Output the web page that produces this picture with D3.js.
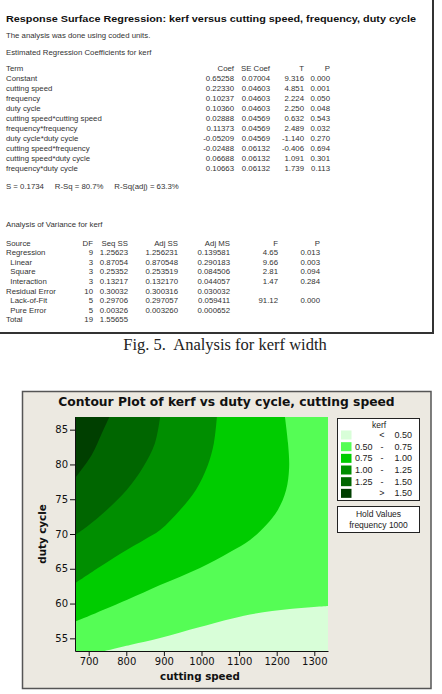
<!DOCTYPE html>
<html lang="en">
<head>
	<meta charset="UTF-8">
	<title>Analysis for kerf width</title>
	<script src="https://cdn.jsdelivr.net/npm/d3@7"></script>
	<style>
		body { margin: 0; background: #fff; }
		svg text { font-family: "Liberation Sans", Arial, sans-serif; }
		.mono { font-size: 7.8px; fill: #333; white-space: pre; }
		.bold { font-family: "DejaVu Sans", Verdana, sans-serif !important; font-weight: bold; fill: #111; }
	</style>
</head>
<body>
	<div id="vis"></div>

	<script>
		var width = 442;
		var height = 694;

		// ---- session window: regression coefficients ----
		var coefTerms = ["Constant", "cutting speed", "frequency", "duty cycle",
			"cutting speed*cutting speed", "frequency*frequency", "duty cycle*duty cycle",
			"cutting speed*frequency", "cutting speed*duty cycle", "frequency*duty cycle"];
		var coefValues = ["0.65258", "0.22330", "0.10237", "0.10360", "0.02888", "0.11373", "-0.05209", "-0.02488", "0.06688", "0.10663"];
		var coefSE = ["0.07004", "0.04603", "0.04603", "0.04603", "0.04569", "0.04569", "0.04569", "0.06132", "0.06132", "0.06132"];
		var coefT = ["9.316", "4.851", "2.224", "2.250", "0.632", "2.489", "-1.140", "-0.406", "1.091", "1.739"];
		var coefP = ["0.000", "0.001", "0.050", "0.048", "0.543", "0.032", "0.270", "0.694", "0.301", "0.113"];

		// ---- session window: analysis of variance ----
		var anovaSource = ["Regression", "  Linear", "  Square", "  Interaction", "Residual Error", "  Lack-of-Fit", "  Pure Error", "Total"];
		var anovaDF = ["9", "3", "3", "3", "10", "5", "5", "19"];
		var anovaSeqSS = ["1.25623", "0.87054", "0.25352", "0.13217", "0.30032", "0.29706", "0.00326", "1.55655"];
		var anovaAdjSS = ["1.256231", "0.870548", "0.253519", "0.132170", "0.300316", "0.297057", "0.003260", ""];
		var anovaAdjMS = ["0.139581", "0.290183", "0.084506", "0.044057", "0.030032", "0.059411", "0.000652", ""];
		var anovaF = ["4.65", "9.66", "2.81", "1.47", "", "91.12", "", ""];
		var anovaP = ["0.013", "0.003", "0.094", "0.284", "", "0.000", "", ""];

		// ---- contour plot ----
		var speedDomain = [663.6, 1336.4];
		var dutyDomain = [53.18, 86.82];
		var speedTicks = [700, 800, 900, 1000, 1100, 1200, 1300];
		var dutyTicks = [55, 60, 65, 70, 75, 80, 85];
		var kerfLevels = [0.50, 0.75, 1.00, 1.25, 1.50];
		var legendLabels = [["", "<", "0.50"], ["0.50", "-", "0.75"], ["0.75", "-", "1.00"],
			["1.00", "-", "1.25"], ["1.25", "-", "1.50"], ["", ">", "1.50"]];

		// contour lines: [cutting speed, duty cycle]
		var kerf050 = [[743, 53.18], [810, 54.04], [890, 55.05], [996, 56.63], [1129, 58.43], [1235, 59.22], [1336.4, 59.65]];
		var kerf075 = [[663.6, 57.39], [801, 60.52], [890, 62.67], [996, 65.13], [1076, 67.41], [1129, 69.14],
			[1172, 71.29], [1203, 73.45], [1225, 76.33], [1233, 79.49], [1230, 83.08], [1222, 86.82]];
		var kerf100 = [[663.6, 62.91], [730, 65.30], [801, 67.70], [847, 69.14], [890, 70.57], [943, 73.45],
			[985, 76.32], [1017, 79.92], [1033, 83.08], [1041, 86.82]];
		var kerf125 = [[663.6, 69.86], [695, 71.05], [748, 73.45], [801, 76.32], [845, 79.64], [876, 83.0], [890, 86.82]];
		var kerf150 = [[663.6, 78.01], [708, 81.36], [735, 84.48], [755, 86.82]];
		var contourLines = [kerf050, kerf075, kerf100, kerf125, kerf150];

		var bandColors = ["#d8fed8", "#55fd55", "#00cc00", "#008e00", "#006600", "#003f00"];

		var svg = d3.select("#vis").append("svg")
				.attr("width", width)
				.attr("height", height);

		svg.append("rect")
			.attr("width", width)
			.attr("height", height)
			.attr("fill", "#fff");

		// ================= session window =================
		svg.append("rect")
			.attr("x", -2)
			.attr("y", -2)
			.attr("width", 435)
			.attr("height", 335)
			.attr("fill", "#fff")
			.attr("stroke", "#333")
			.attr("stroke-width", 2);

		svg.append("text")
			.attr("x", 6)
			.attr("y", 21.5)
			.attr("font-size", 9.5)
			.attr("font-weight", "bold")
			.attr("fill", "#111")
			.attr("textLength", 410)
			.attr("lengthAdjust", "spacingAndGlyphs")
			.text("Response Surface Regression: kerf versus cutting speed, frequency, duty cycle");

		function mono(x, yy, txt, anchor) {
			svg.append("text")
				.attr("class", "mono")
				.attr("x", x)
				.attr("y", yy)
				.attr("text-anchor", anchor || "start")
				.text(txt);
		}

		mono(6, 37.5, "The analysis was done using coded units.");
		mono(6, 54.5, "Estimated Regression Coefficients for kerf");

		var coefCols = [234, 270, 304, 330];
		var rowY = 70.5;
		mono(6, rowY, "Term");
		["Coef", "SE Coef", "T", "P"].forEach(function(h, i) { mono(coefCols[i], rowY, h, "end"); });

		coefTerms.forEach(function(term, i) {
			var yy = rowY + 10 * (i + 1);
			mono(6, yy, term);
			mono(coefCols[0], yy, coefValues[i], "end");
			mono(coefCols[1], yy, coefSE[i], "end");
			mono(coefCols[2], yy, coefT[i], "end");
			mono(coefCols[3], yy, coefP[i], "end");
		});

		mono(6, 188.5, "S = 0.1734     R-Sq = 80.7%     R-Sq(adj) = 63.3%");
		mono(6, 226.5, "Analysis of Variance for kerf");

		var anovaCols = [93, 128, 178, 230, 278, 320];
		var anovaY = 245.5;
		mono(6, anovaY, "Source");
		["DF", "Seq SS", "Adj SS", "Adj MS", "F", "P"].forEach(function(h, i) { mono(anovaCols[i], anovaY, h, "end"); });

		anovaSource.forEach(function(src, i) {
			var yy = anovaY + 9.6 * (i + 1);
			mono(6, yy, src);
			[anovaDF, anovaSeqSS, anovaAdjSS, anovaAdjMS, anovaF, anovaP].forEach(function(col, j) {
				if (col[i]) mono(anovaCols[j], yy, col[i], "end");
			});
		});

		svg.append("text")
			.attr("x", 225)
			.attr("y", 350)
			.attr("text-anchor", "middle")
			.attr("font-size", 16.5)
			.attr("fill", "#222")
			.style("font-family", "'Liberation Serif', 'Times New Roman', serif")
			.style("white-space", "pre")
			.text("Fig. 5.  Analysis for kerf width");

		// ================= contour plot =================
		svg.append("rect")
			.attr("x", 22.5)
			.attr("y", 391.5)
			.attr("width", 408.5)
			.attr("height", 297)
			.attr("fill", "#ece9e1")
			.attr("stroke", "#555")
			.attr("stroke-width", 1.5);

		svg.append("text")
			.attr("class", "bold")
			.attr("x", 226.5)
			.attr("y", 405.5)
			.attr("text-anchor", "middle")
			.attr("font-size", 12.3)
			.text("Contour Plot of kerf vs duty cycle, cutting speed");

		var x = d3.scaleLinear().domain(speedDomain).range([75, 328]);
		var y = d3.scaleLinear().domain(dutyDomain).range([651, 417]);

		svg.append("clipPath")
			.attr("id", "plotClip")
			.append("rect")
			.attr("x", x.range()[0])
			.attr("y", y.range()[1])
			.attr("width", x.range()[1] - x.range()[0])
			.attr("height", y.range()[0] - y.range()[1]);

		var plot = svg.append("g").attr("clip-path", "url(#plotClip)");

		// lowest band fills the whole area
		plot.append("rect")
			.attr("x", x.range()[0])
			.attr("y", y.range()[1])
			.attr("width", x.range()[1] - x.range()[0])
			.attr("height", y.range()[0] - y.range()[1])
			.attr("fill", bandColors[0]);

		var curve = d3.line()
				.x(function(d) { return x(d[0]); })
				.y(function(d) { return y(d[1]); })
				.curve(d3.curveCatmullRom.alpha(0.5));

		var x0 = speedDomain[0], x1 = speedDomain[1], y0 = dutyDomain[0], y1 = dutyDomain[1];

		contourLines.forEach(function(line, i) {
			// area above each level lies toward the top-left corner
			var corners = i === 0 ? [[x1, y1], [x0, y1], [x0, y0]] : [[x0, y1]];
			var path = curve(line) + corners.map(function(c) {
				return "L" + x(c[0]) + "," + y(c[1]);
			}).join("") + "Z";
			plot.append("path")
				.attr("d", path)
				.attr("fill", bandColors[i + 1]);
		});

		// axes
		var xAxis = svg.append("g")
				.attr("transform", "translate(0," + y.range()[0] + ")")
				.call(d3.axisBottom(x).tickValues(speedTicks).tickFormat(d3.format("d"))
					.tickSize(5).tickPadding(2).tickSizeOuter(0));

		var yAxis = svg.append("g")
				.attr("transform", "translate(" + x.range()[0] + ",0)")
				.call(d3.axisLeft(y).tickValues(dutyTicks).tickSize(5).tickPadding(2).tickSizeOuter(0));

		[xAxis, yAxis].forEach(function(a) {
			a.selectAll("text")
				.attr("font-size", 10)
				.attr("fill", "#111")
				.style("font-family", "'DejaVu Sans', Verdana, sans-serif");
			a.selectAll("line").attr("stroke", "#111");
			a.select(".domain").attr("stroke", "#111");
		});

		svg.append("text")
			.attr("class", "bold")
			.attr("x", 200)
			.attr("y", 680)
			.attr("text-anchor", "middle")
			.attr("font-size", 10.3)
			.text("cutting speed");

		svg.append("text")
			.attr("class", "bold")
			.attr("transform", "translate(45.5,534) rotate(-90)")
			.attr("text-anchor", "middle")
			.attr("font-size", 10.3)
			.text("duty cycle");

		// legend
		var legend = svg.append("g");
		legend.append("rect")
			.attr("x", 337.5)
			.attr("y", 418.5)
			.attr("width", 82)
			.attr("height", 82)
			.attr("fill", "#fff")
			.attr("stroke", "#222")
			.attr("stroke-width", 1);

		legend.append("text")
			.attr("x", 379)
			.attr("y", 428)
			.attr("text-anchor", "middle")
			.attr("font-size", 8.5)
			.attr("fill", "#222")
			.text("kerf");

		var rows = legend.selectAll("g.row")
				.data(legendLabels)
				.enter().append("g")
				.attr("class", "row")
				.attr("transform", function(d, i) { return "translate(0," + (435 + i * 11.67) + ")"; });

		rows.append("rect")
			.attr("x", 341)
			.attr("y", -4.5)
			.attr("width", 10.5)
			.attr("height", 9)
			.attr("fill", function(d, i) { return bandColors[i]; });

		rows.append("text")
			.attr("x", 355)
			.attr("y", 3)
			.attr("font-size", 9)
			.attr("fill", "#222")
			.text(function(d) { return d[0]; });
		rows.append("text")
			.attr("x", 382)
			.attr("y", 3)
			.attr("text-anchor", "middle")
			.attr("font-size", 9)
			.attr("fill", "#222")
			.text(function(d) { return d[1]; });
		rows.append("text")
			.attr("x", 412)
			.attr("y", 3)
			.attr("text-anchor", "end")
			.attr("font-size", 9)
			.attr("fill", "#222")
			.text(function(d) { return d[2]; });

		legend.append("rect")
			.attr("x", 337.5)
			.attr("y", 506.5)
			.attr("width", 82)
			.attr("height", 26)
			.attr("fill", "#fff")
			.attr("stroke", "#222")
			.attr("stroke-width", 1);

		legend.append("text")
			.attr("x", 378.5)
			.attr("y", 516.5)
			.attr("text-anchor", "middle")
			.attr("font-size", 8.5)
			.attr("fill", "#222")
			.text("Hold Values");

		legend.append("text")
			.attr("x", 378.5)
			.attr("y", 527.5)
			.attr("text-anchor", "middle")
			.attr("font-size", 8.5)
			.attr("fill", "#222")
			.text("frequency 1000");
	</script>
</body>
</html>
